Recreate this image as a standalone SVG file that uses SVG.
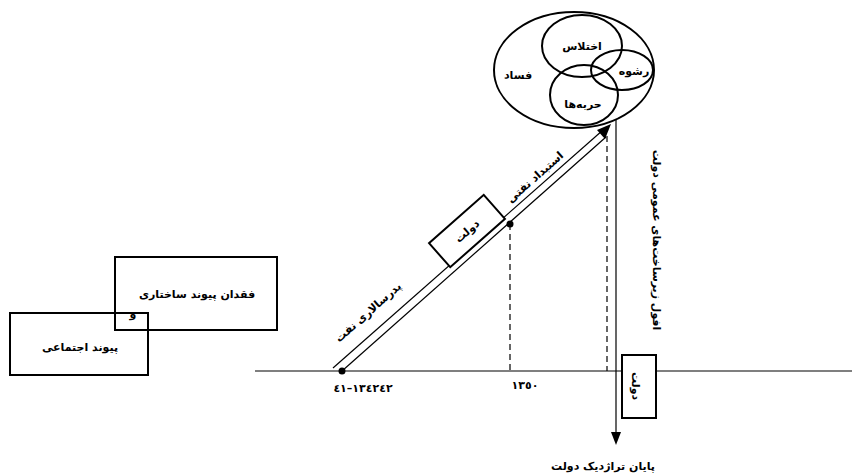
<svg xmlns="http://www.w3.org/2000/svg" width="852" height="475" viewBox="0 0 852 475">
<style>
.t{font-family:"DejaVu Sans",sans-serif;font-size:11px;fill:#000;text-anchor:middle;font-weight:bold}
.box{fill:none;stroke:#000;stroke-width:2}
.wbox{fill:#fff;stroke:#000;stroke-width:2}
.el{fill:none;stroke:#000;stroke-width:2}
.ln{stroke:#000;stroke-width:1.2;fill:none}
.dash{stroke:#000;stroke-width:1.2;fill:none;stroke-dasharray:6,4}
</style>
<g id="connectors">
<line class="ln" x1="255" y1="371" x2="852" y2="371" stroke-width="1.4"/>
<line class="ln" x1="342" y1="371" x2="606" y2="137"/>
<line class="ln" x1="333" y1="368" x2="603" y2="130"/>
<path d="M611,124 L597,130 L605,139 Z" fill="#000"/>
<line class="dash" x1="510" y1="224" x2="510" y2="371"/>
<line class="dash" x1="607" y1="136" x2="607" y2="371"/>
<line class="ln" x1="616" y1="120" x2="616" y2="433"/>
<path d="M611,432 L621,432 L616,445 Z" fill="#000"/>
<circle cx="342" cy="371" r="3.5" fill="#000"/>
<circle cx="510" cy="224" r="3.5" fill="#000"/>
</g>
<g id="node-fesad">
<ellipse class="el" cx="574" cy="70" rx="80" ry="58"/>
<text class="t" x="518" y="79">فساد</text>
</g>
<g id="node-ekhtelas">
<ellipse class="el" cx="582" cy="46" rx="40" ry="31"/>
<text class="t" x="582" y="50">اختلاس</text>
</g>
<g id="node-reshve">
<ellipse class="el" cx="622" cy="70" rx="31" ry="20"/>
<text class="t" x="634" y="75">رشوه</text>
</g>
<g id="node-harbeha">
<ellipse class="el" cx="584" cy="95" rx="34" ry="30"/>
<text class="t" x="583" y="108">حربه‌ها</text>
</g>
<g id="node-dolat-diag" transform="translate(467,231) rotate(-41.5)">
<rect class="wbox" x="-36.5" y="-16" width="73" height="32"/>
<text class="t" x="0" y="4">دولت</text>
</g>
<g id="node-dolat-right">
<rect class="wbox" x="622" y="355" width="34" height="63"/>
<text class="t" transform="translate(636,386) rotate(90)" x="0" y="4">دولت</text>
</g>
<g id="node-feqdan">
<rect class="box" x="115" y="257" width="162" height="73"/>
<text class="t" x="197" y="298">فقدان پیوند ساختاری</text>
</g>
<g id="node-peyvand">
<rect class="box" x="10" y="313" width="138" height="62"/>
<text class="t" x="80" y="351">پیوند اجتماعی</text>
</g>
<text class="t" x="133" y="318">و</text>
<text class="t" transform="translate(368,312) rotate(-41.5)" x="0" y="4">پدرسالاری نفت</text>
<text class="t" transform="translate(535,177) rotate(-41.5)" x="0" y="4">استبداد نفتی</text>
<text class="t" transform="translate(657,240) rotate(90)" x="0" y="4">افول زیرساخت‌های عمومی دولت</text>
<text class="t" x="363" y="392" direction="ltr" unicode-bidi="bidi-override">٤١–١٣٤٢٤٢</text>
<text class="t" x="525" y="389">١٣٥٠</text>
<text class="t" x="603" y="470">پایان تراژدیک دولت</text>
</svg>
